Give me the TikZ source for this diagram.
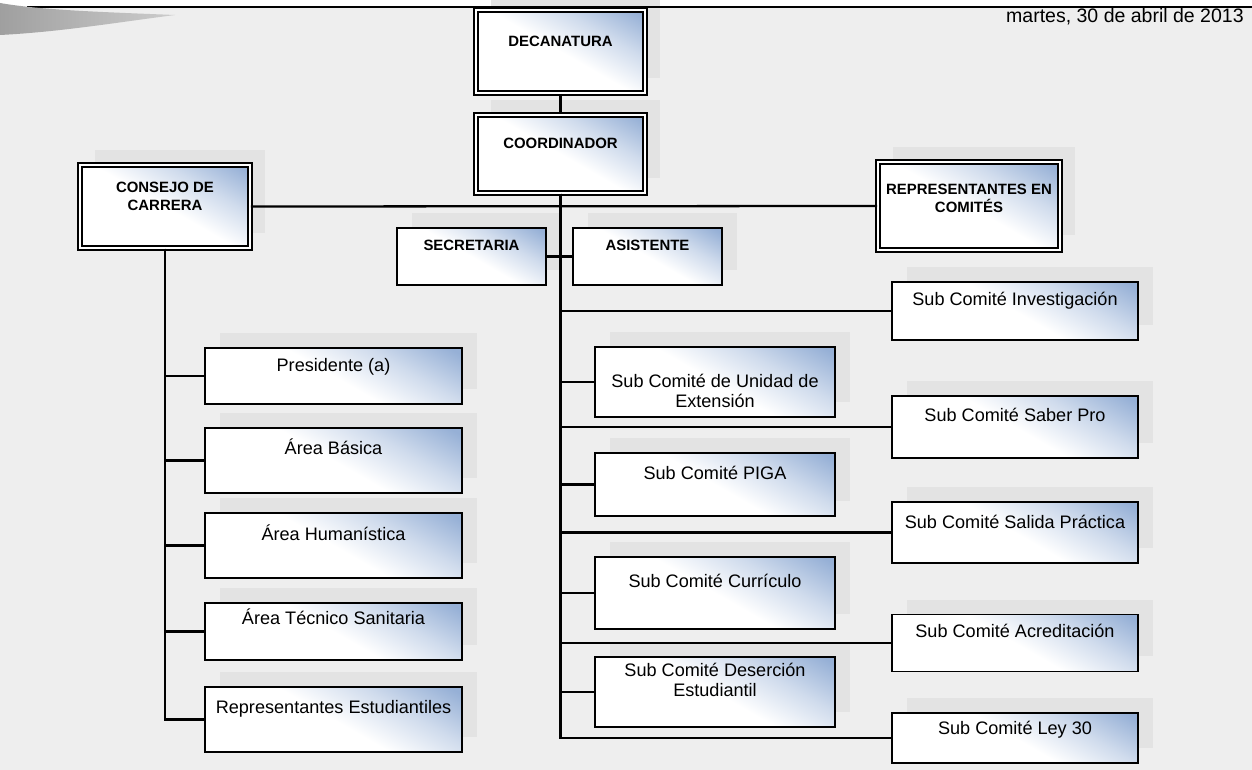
\documentclass[tikz,border=0pt]{standalone}
\usepackage{fontspec}
\setmainfont{Liberation Sans}
\usetikzlibrary{shadows}

\definecolor{boxblue}{RGB}{150,176,214}
\definecolor{bggray}{RGB}{238,238,238}

% white box with a blue band at the top right
\pgfdeclareverticalshading{boxshade}{100bp}{color(0bp)=(white); color(50bp)=(white);
  color(66bp)=(boxblue!45); color(82bp)=(boxblue); color(100bp)=(boxblue)}

\tikzset{
  orgbox/.style={draw=black, line width=1pt, inner sep=0pt,
    general shadow={shadow xshift=0.3cm, shadow yshift=0.3cm, fill=gray!22},
    shading=boxshade, shading angle=-30},
  headbox/.style={orgbox, double=white, double distance=1.1pt, line width=0.9pt},
  headtext/.style={anchor=north, inner sep=0pt, align=center, font=\bfseries\fontsize{8.5}{10}\selectfont},
  subtext/.style={anchor=north, inner sep=0pt, align=center, font=\fontsize{10.3}{11.4}\selectfont},
  link/.style={line width=1.3pt}
}

\begin{document}
\begin{tikzpicture}[x=0.02cm, y=-0.02cm]
  \useasboundingbox (0,0) rectangle (1252,770);

  % Background
  \fill[bggray] (0,7) rectangle (1252,770);
  \fill[white] (0,0) rectangle (1252,7);

  % Top row
  \node[headbox, minimum width=3.38cm, minimum height=1.66cm,
    label={[headtext, yshift=-0.53cm]90:DECANATURA}] (deca) at (560.5,51.5) {};
  \node[headbox, minimum width=3.38cm, minimum height=1.56cm,
    label={[headtext, yshift=-0.47cm]90:COORDINADOR}] (coord) at (560.5,154) {};
  \node[headbox, minimum width=3.40cm, minimum height=1.66cm,
    label={[headtext, yshift=-0.35cm]90:{CONSEJO DE\\CARRERA}}] (consejo) at (165,206.5) {};
  \node[headbox, minimum width=3.64cm, minimum height=1.76cm,
    label={[headtext, yshift=-0.45cm]90:{REPRESENTANTES EN\\COMITÉS}}] (repcom) at (969,206) {};
  \node[orgbox, minimum width=2.98cm, minimum height=1.14cm,
    label={[headtext, yshift=-0.25cm]90:SECRETARIA}] (secre) at (471.5,256.5) {};
  \node[orgbox, minimum width=2.98cm, minimum height=1.14cm,
    label={[headtext, yshift=-0.25cm]90:ASISTENTE}] (asis) at (647.5,256.5) {};

  % Consejo de carrera
  \node[orgbox, minimum width=5.14cm, minimum height=1.12cm,
    label={[subtext, yshift=-0.21cm]90:Presidente (a)}] (pres) at (333.5,376) {};
  \node[orgbox, minimum width=5.14cm, minimum height=1.30cm,
    label={[subtext, yshift=-0.22cm]90:Área Básica}] (basica) at (333.5,460.5) {};
  \node[orgbox, minimum width=5.14cm, minimum height=1.30cm,
    label={[subtext, yshift=-0.24cm]90:Área Humanística}] (human) at (333.5,545.5) {};
  \node[orgbox, minimum width=5.14cm, minimum height=1.14cm,
    label={[subtext, yshift=-0.12cm]90:Área Técnico Sanitaria}] (tecnico) at (333.5,631.5) {};
  \node[orgbox, minimum width=5.14cm, minimum height=1.30cm,
    label={[subtext, yshift=-0.27cm]90:Representantes Estudiantiles}] (repest) at (333.5,719.5) {};

  % Sub comites, middle column
  \node[orgbox, minimum width=4.80cm, minimum height=1.40cm,
    label={[subtext, yshift=-0.55cm]90:{Sub Comité de Unidad de\\Extensión}}] (unidad) at (715,382) {};
  \node[orgbox, minimum width=4.80cm, minimum height=1.26cm,
    label={[subtext, yshift=-0.27cm]90:Sub Comité PIGA}] (piga) at (715,484.5) {};
  \node[orgbox, minimum width=4.80cm, minimum height=1.44cm,
    label={[subtext, yshift=-0.35cm]90:Sub Comité Currículo}] (curric) at (715,593) {};
  \node[orgbox, minimum width=4.80cm, minimum height=1.40cm,
    label={[subtext, yshift=-0.13cm]90:{Sub Comité Deserción\\Estudiantil}}] (desercion) at (715,692) {};

  % Sub comites, right column
  \node[orgbox, minimum width=4.92cm, minimum height=1.16cm,
    label={[subtext, yshift=-0.21cm]90:Sub Comité Investigación}] (invest) at (1015,311) {};
  \node[orgbox, minimum width=4.92cm, minimum height=1.24cm,
    label={[subtext, yshift=-0.25cm]90:Sub Comité Saber Pro}] (saber) at (1015,427) {};
  \node[orgbox, minimum width=4.92cm, minimum height=1.22cm,
    label={[subtext, yshift=-0.27cm]90:Sub Comité Salida Práctica}] (salida) at (1015,532.5) {};
  \node[orgbox, minimum width=4.92cm, minimum height=1.14cm,
    label={[subtext, yshift=-0.21cm]90:Sub Comité Acreditación}] (acred) at (1015,643) {};
  \node[orgbox, minimum width=4.92cm, minimum height=1.00cm,
    label={[subtext, yshift=-0.17cm]90:Sub Comité Ley 30}] (ley) at (1015,738) {};

  % Connectors
  \draw[link] (deca) -- (coord);
  \draw[link] (consejo.east) -- (repcom.west);
  \draw[link] (secre.east) -- (asis.west);
  \foreach \b in {pres,basica,human,tecnico,repest}
    \draw[link] (consejo.south) |- (\b.west);
  \foreach \b in {invest,unidad,saber,piga,salida,curric,acred,desercion,ley}
    \draw[link] (coord.south) |- (\b.west);

  % Header: line, swoosh and date
  \draw[line width=0.8pt] (27,7) -- (1252,7);
  \shade[left color=gray!75, right color=gray!40]
    (0,3) .. controls (40,10) and (100,12) .. (175,15)
    .. controls (120,22) and (60,32) .. (0,35) -- cycle;
  \node[anchor=east, inner sep=0pt, font=\fontsize{11.1}{13}\selectfont] (fecha)
    at (1244,17) {martes, 30 de abril de 2013};
\end{tikzpicture}
\end{document}
